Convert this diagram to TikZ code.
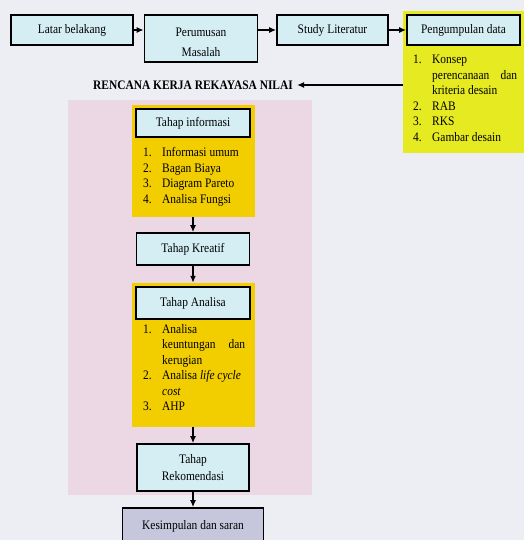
\documentclass[tikz,border=0pt]{standalone}
\usepackage{fontspec}
\setmainfont{Liberation Serif}[FakeStretch=0.88]
\usetikzlibrary{arrows.meta}
\definecolor{bgc}{RGB}{237,238,244}
\definecolor{pinkc}{RGB}{236,216,228}
\definecolor{boxc}{RGB}{212,238,244}
\definecolor{goldc}{RGB}{242,206,0}
\definecolor{limec}{RGB}{230,234,32}
\definecolor{greyc}{RGB}{198,198,220}
\newcommand{\lf}{\fontsize{13}{15.5}\selectfont}
\newcommand{\lftwo}{\fontsize{13}{17}\selectfont}
\newcommand{\lfthree}{\fontsize{13}{20}\selectfont}
\begin{document}
\begin{tikzpicture}[x=1pt,y=-1pt,
  stepbox/.style={draw=black, line width=1.6pt, fill=boxc, inner sep=0pt, font=\lftwo, align=center},
  boxlabel/.style={inner sep=0pt, font=\lfthree, align=center},
  ypanel/.style={fill=goldc, inner sep=0pt, draw=none},
  lpanel/.style={fill=limec, inner sep=0pt, draw=none},
  conn/.style={line width=1.5pt, -{Latex[length=7pt,width=6pt]}},
  listtxt/.style={inner sep=0pt, anchor=base west, font=\lf}
]
\useasboundingbox (0,0) rectangle (524,540);
\clip (0,0) rectangle (524,540);
\fill[bgc] (0,0) rectangle (524,540);
\fill[pinkc] (68,100) rectangle (312,495);

% top row
\node[stepbox, minimum width=122pt, minimum height=30pt] (latar) at (72,30) {Latar belakang};
\node[stepbox, minimum width=113pt, minimum height=47pt] (perumusan) at (201,38.5) {};
\node[boxlabel] (perumusantxt) at (201,42) {Perumusan\\Masalah};
\node[stepbox, minimum width=111pt, minimum height=30pt] (study) at (332.5,30) {Study Literatur};
\node[lpanel, minimum width=121pt, minimum height=142pt] (datapanel) at (463.5,82) {};
\node[stepbox, minimum width=113pt, minimum height=30pt] (pengumpulan) at (463.5,30) {Pengumpulan data};
\node[listtxt] (datalist) at (413,64) {\begin{tabular}[t]{@{}p{19pt}@{}p{85pt}@{}}1.&Konsep\newline perencanaan\hfill dan\newline kriteria desain\\2.&RAB\\3.&RKS\\4.&Gambar desain\end{tabular}};

\node[font=\fontsize{13}{15.5}\selectfont\bfseries, inner sep=0pt, inner xsep=4pt] (rencana) at (193,85) {RENCANA KERJA REKAYASA NILAI};

\draw[conn] (latar.east) -- (latar.east -| perumusan.west);
\draw[conn] (perumusan.east |- study.west) -- (study.west);
\draw[conn] (study.east) -- (pengumpulan.west);
\draw[conn] (datapanel.west |- rencana.east) -- (rencana.east);

% left column
\node[ypanel, minimum width=123pt, minimum height=112pt] (infopanel) at (193,161) {};
\node[stepbox, minimum width=114pt, minimum height=28pt] (infobox) at (193,123) {Tahap informasi};
\node[listtxt] (infolist) at (143,157) {\begin{tabular}[t]{@{}p{19pt}@{}p{83pt}@{}}1.&Informasi umum\\2.&Bagan Biaya\\3.&Diagram Pareto\\4.&Analisa Fungsi\end{tabular}};

\node[stepbox, minimum width=113pt, minimum height=32pt] (kreatif) at (193,249) {Tahap Kreatif};

\node[ypanel, minimum width=123pt, minimum height=144pt] (analisapanel) at (193,355) {};
\node[stepbox, minimum width=114pt, minimum height=32pt] (analisabox) at (193,303) {Tahap Analisa};
\node[listtxt] (analisalist) at (143,333) {\begin{tabular}[t]{@{}p{19pt}@{}p{83pt}@{}}1.&Analisa\newline keuntungan\hfill dan\newline kerugian\\2.&Analisa \textit{life cycle}\newline\textit{cost}\\3.&AHP\end{tabular}};

\node[stepbox, minimum width=112pt, minimum height=47pt] (rekom) at (193,467.5) {Tahap\\Rekomendasi};
\node[stepbox, fill=greyc, minimum width=141pt, minimum height=36pt] (kesimpulan) at (193,526) {Kesimpulan dan saran};

\draw[conn] (infopanel.south) -- (kreatif.north);
\draw[conn] (kreatif.south) -- (analisapanel.north);
\draw[conn] (analisapanel.south) -- (rekom.north);
\draw[conn] (rekom.south) -- (kesimpulan.north);
\end{tikzpicture}
\end{document}
